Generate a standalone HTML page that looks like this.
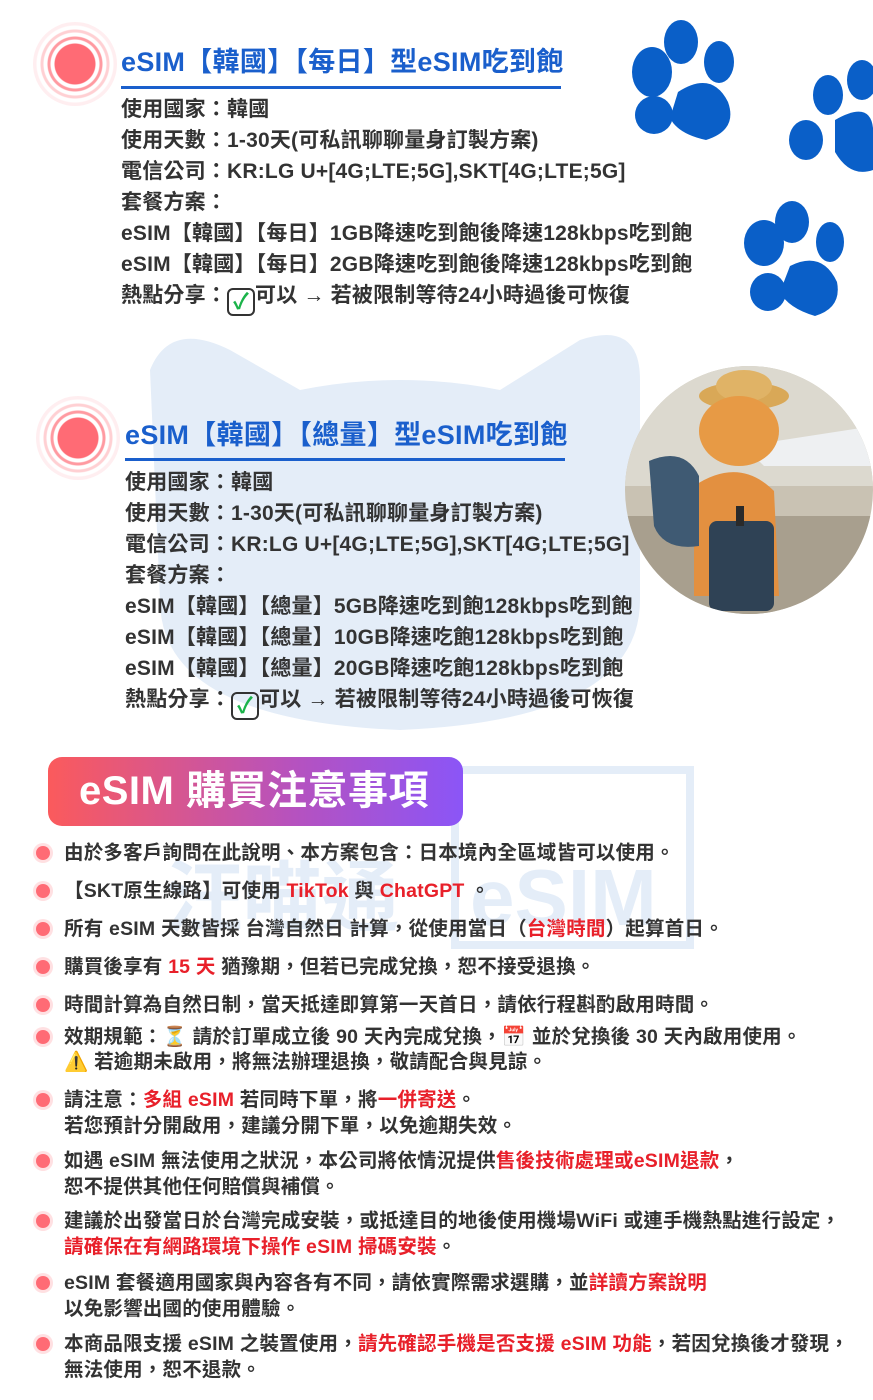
<!DOCTYPE html>
<html><head><meta charset="utf-8">
<style>
body{margin:0;width:873px;height:1400px;background:#fff;position:relative;overflow:hidden;font-family:"Liberation Sans","Noto Sans CJK TC",sans-serif;font-weight:bold;color:#333}
.l{position:absolute;white-space:nowrap;font-size:21px;line-height:28px;letter-spacing:0.2px}
.t{position:absolute;white-space:nowrap;font-size:27px;line-height:36px;color:#1a5fcc;letter-spacing:0.3px}
.u{position:absolute;height:3px;background:#1a5fcc}
.r{color:#e8202a}
.b{position:absolute;white-space:nowrap;font-size:19.5px;line-height:26px;letter-spacing:0.2px;left:64px}
.dot{position:absolute;left:36px;width:14px;height:14px;border-radius:50%;background:#ff6b75;box-shadow:0 0 0 3px #ffe0e2}
.chk{display:inline-block;width:28px;height:28px;border:2px solid #333;border-radius:6px;vertical-align:-7px;text-align:center;color:#1bb34a;font-size:22px;line-height:24px;box-sizing:border-box}
.ring{position:absolute;border-radius:50%}
</style></head><body>
<svg style="position:absolute;left:0;top:0" width="873" height="1400">
<path d="M150 370 Q170 320 230 350 L300 390 Q400 370 500 390 L580 340 Q640 320 640 380 L640 600 Q640 720 400 730 Q160 720 160 600 Z" fill="#e4edf8"/>
<rect x="455" y="770" width="235" height="175" fill="none" stroke="#e4edf8" stroke-width="8"/>
<text x="470" y="925" font-size="80" fill="#e4edf8" font-family="Liberation Sans">eSIM</text>
<text x="165" y="925" font-size="78" fill="#e4edf8" font-family="Noto Sans CJK TC" font-weight="bold">汪喵通</text>
</svg>
<svg style="position:absolute;left:0;top:0" width="873" height="330">
<g fill="#0a5fc8">
<ellipse cx="652" cy="72" rx="20" ry="25"/><ellipse cx="681" cy="42" rx="17" ry="22"/><ellipse cx="719" cy="62" rx="15" ry="21"/><ellipse cx="654" cy="115" rx="19" ry="19"/><path d="M678 92 Q712 70 728 102 Q738 130 706 140 Q678 134 670 118 Z"/>
<ellipse cx="828" cy="95" rx="15" ry="20"/><ellipse cx="862" cy="80" rx="15" ry="20"/><ellipse cx="806" cy="140" rx="17" ry="20"/><path d="M835 120 Q870 100 873 128 L873 170 Q850 178 835 152 Z"/>
<ellipse cx="764" cy="243" rx="20" ry="23"/><ellipse cx="792" cy="222" rx="17" ry="21"/><ellipse cx="830" cy="242" rx="14" ry="20"/><ellipse cx="768" cy="292" rx="18" ry="19"/><path d="M790 266 Q822 250 837 282 Q842 308 815 316 Q788 308 780 292 Z"/>
</g></svg>
<div class="ring" style="left:33px;top:22px;width:84px;height:84px;background:radial-gradient(circle,#ff6b75 0 20px,#fff 21px 24px,#ff9aa1 25px 27px,#fff 28px 31px,#ffd0d3 32px 34px,#fff 35px 38px,#ffeef0 39px 42px)"></div>
<div class="t" style="left:121px;top:44px">eSIM【韓國】【每日】型eSIM吃到飽</div>
<div class="u" style="left:121px;top:86px;width:440px"></div>
<div class="l" style="left:121px;top:96px">使用國家：韓國</div>
<div class="l" style="left:121px;top:127px">使用天數：1-30天(可私訊聊聊量身訂製方案)</div>
<div class="l" style="left:121px;top:158px">電信公司：KR:LG U+[4G;LTE;5G],SKT[4G;LTE;5G]</div>
<div class="l" style="left:121px;top:189px">套餐方案：</div>
<div class="l" style="left:121px;top:220px">eSIM【韓國】【每日】1GB降速吃到飽後降速128kbps吃到飽</div>
<div class="l" style="left:121px;top:251px">eSIM【韓國】【每日】2GB降速吃到飽後降速128kbps吃到飽</div>
<div class="l" style="left:121px;top:282px">熱點分享：<span class="chk">✓</span>可以 → 若被限制等待24小時過後可恢復</div>

<div class="ring" style="left:36px;top:396px;width:84px;height:84px;background:radial-gradient(circle,#ff6b75 0 20px,#fff 21px 24px,#ff9aa1 25px 27px,#fff 28px 31px,#ffd0d3 32px 34px,#fff 35px 38px,#ffeef0 39px 42px)"></div>
<div class="t" style="left:125px;top:417px">eSIM【韓國】【總量】型eSIM吃到飽</div>
<div class="u" style="left:125px;top:458px;width:440px"></div>
<div class="l" style="left:125px;top:469px">使用國家：韓國</div>
<div class="l" style="left:125px;top:500px">使用天數：1-30天(可私訊聊聊量身訂製方案)</div>
<div class="l" style="left:125px;top:531px">電信公司：KR:LG U+[4G;LTE;5G],SKT[4G;LTE;5G]</div>
<div class="l" style="left:125px;top:562px">套餐方案：</div>
<div class="l" style="left:125px;top:593px">eSIM【韓國】【總量】5GB降速吃到飽128kbps吃到飽</div>
<div class="l" style="left:125px;top:624px">eSIM【韓國】【總量】10GB降速吃飽128kbps吃到飽</div>
<div class="l" style="left:125px;top:655px">eSIM【韓國】【總量】20GB降速吃飽128kbps吃到飽</div>
<div class="l" style="left:125px;top:686px">熱點分享：<span class="chk">✓</span>可以 → 若被限制等待24小時過後可恢復</div>

<svg style="position:absolute;left:624px;top:366px" width="250" height="250">
<defs><clipPath id="c"><circle cx="125" cy="124" r="124"/></clipPath></defs>
<g clip-path="url(#c)">
<rect width="250" height="250" fill="#c9c2b3"/>
<rect y="0" width="250" height="120" fill="#dcd9cf"/>
<path d="M120 80 L250 60 L250 100 L140 100 Z" fill="#eef0f2"/>
<rect y="150" width="250" height="100" fill="#a89f8e"/>
<ellipse cx="120" cy="30" rx="45" ry="14" fill="#d9a857"/><ellipse cx="120" cy="20" rx="28" ry="16" fill="#e0b366"/>
<ellipse cx="115" cy="65" rx="40" ry="35" fill="#e79a45"/>
<path d="M70 120 Q115 90 150 125 L155 230 L70 230 Z" fill="#e39040"/>
<path d="M25 95 Q60 80 75 110 L75 180 Q40 185 30 160 Z" fill="#3f5a73"/>
<rect x="85" y="155" width="65" height="90" rx="8" fill="#2f4255"/>
<rect x="112" y="140" width="8" height="20" fill="#2a2a2a"/>
</g></svg>

<div style="position:absolute;left:48px;top:757px;width:415px;height:69px;border-radius:14px;background:linear-gradient(90deg,#fb5a5c,#b552c0 60%,#8b55f7);color:#fff;font-size:40px;line-height:69px;letter-spacing:0.5px;box-sizing:border-box;padding-left:31px;white-space:nowrap">eSIM 購買注意事項</div>

<div class="dot" style="top:846px"></div>
<div class="b" style="top:840px">由於多客戶詢問在此說明、本方案包含：日本境內全區域皆可以使用。</div>
<div class="dot" style="top:884px"></div>
<div class="b" style="top:878px">【SKT原生線路】可使用 <span class="r">TikTok</span> 與 <span class="r">ChatGPT</span> 。</div>
<div class="dot" style="top:922px"></div>
<div class="b" style="top:916px">所有 eSIM 天數皆採 台灣自然日 計算，從使用當日（<span class="r">台灣時間</span>）起算首日。</div>
<div class="dot" style="top:960px"></div>
<div class="b" style="top:954px">購買後享有 <span class="r">15 天</span> 猶豫期，但若已完成兌換，恕不接受退換。</div>
<div class="dot" style="top:998px"></div>
<div class="b" style="top:992px">時間計算為自然日制，當天抵達即算第一天首日，請依行程斟酌啟用時間。</div>
<div class="dot" style="top:1030px"></div>
<div class="b" style="top:1024px">效期規範：⏳ 請於訂單成立後 90 天內完成兌換，📅 並於兌換後 30 天內啟用使用。</div>
<div class="b" style="top:1049px">⚠️ 若逾期未啟用，將無法辦理退換，敬請配合與見諒。</div>
<div class="dot" style="top:1093px"></div>
<div class="b" style="top:1087px">請注意：<span class="r">多組 eSIM</span> 若同時下單，將<span class="r">一併寄送</span>。</div>
<div class="b" style="top:1113px">若您預計分開啟用，建議分開下單，以免逾期失效。</div>
<div class="dot" style="top:1154px"></div>
<div class="b" style="top:1148px">如遇 eSIM 無法使用之狀況，本公司將依情況提供<span class="r">售後技術處理或eSIM退款</span>，</div>
<div class="b" style="top:1174px">恕不提供其他任何賠償與補償。</div>
<div class="dot" style="top:1214px"></div>
<div class="b" style="top:1208px">建議於出發當日於台灣完成安裝，或抵達目的地後使用機場WiFi 或連手機熱點進行設定，</div>
<div class="b" style="top:1234px"><span class="r">請確保在有網路環境下操作 eSIM 掃碼安裝</span>。</div>
<div class="dot" style="top:1276px"></div>
<div class="b" style="top:1270px">eSIM 套餐適用國家與內容各有不同，請依實際需求選購，並<span class="r">詳讀方案說明</span></div>
<div class="b" style="top:1296px">以免影響出國的使用體驗。</div>
<div class="dot" style="top:1337px"></div>
<div class="b" style="top:1331px">本商品限支援 eSIM 之裝置使用，<span class="r">請先確認手機是否支援 eSIM 功能</span>，若因兌換後才發現，</div>
<div class="b" style="top:1357px">無法使用，恕不退款。</div>
</body></html>
